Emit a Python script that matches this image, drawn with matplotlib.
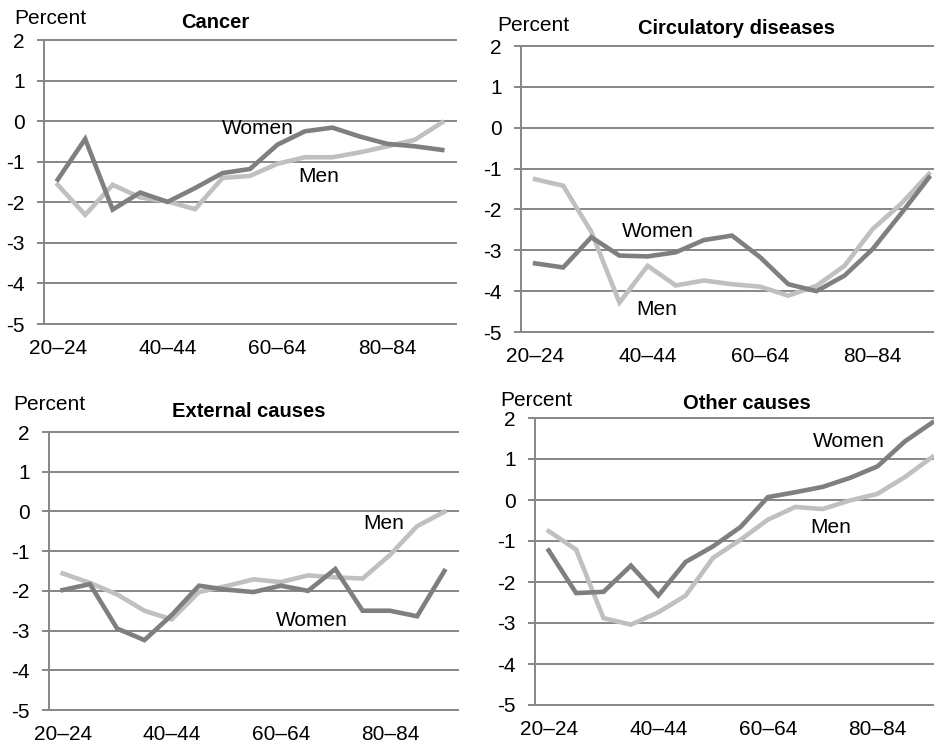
import matplotlib
matplotlib.use("Agg")
import matplotlib.pyplot as plt

plt.rcParams['font.family'] = ['Liberation Sans', 'DejaVu Sans']
plt.rcParams['axes.unicode_minus'] = False

# age groups 20-24 ... 90+
ages = ['20–24', '25–29', '30–34', '35–39', '40–44', '45–49', '50–54', '55–59',
        '60–64', '65–69', '70–74', '75–79', '80–84', '85–89', '90+']

# yearly change in mortality, percent
cancer_women = [-1.44, -0.44, -2.18, -1.76, -1.99, -1.65, -1.28, -1.18, -0.58, -0.25, -0.16, -0.38, -0.56, -0.62, -0.71]
cancer_men = [-1.57, -2.31, -1.57, -1.88, -1.98, -2.17, -1.40, -1.35, -1.05, -0.89, -0.89, -0.77, -0.62, -0.46, -0.03]

circ_women = [-3.32, -3.42, -2.68, -3.13, -3.15, -3.05, -2.75, -2.64, -3.17, -3.83, -4.00, -3.62, -2.97, -2.11, -1.22]
circ_men = [-1.26, -1.42, -2.55, -4.28, -3.38, -3.86, -3.74, -3.83, -3.89, -4.11, -3.87, -3.38, -2.48, -1.87, -1.13]

ext_women = [-1.98, -1.83, -2.95, -3.24, -2.61, -1.87, -1.97, -2.03, -1.87, -2.00, -1.45, -2.50, -2.50, -2.64, -1.50]
ext_men = [-1.56, -1.80, -2.09, -2.50, -2.72, -2.03, -1.88, -1.71, -1.78, -1.61, -1.66, -1.69, -1.10, -0.37, -0.01]

other_women = [-1.23, -2.27, -2.24, -1.60, -2.33, -1.51, -1.13, -0.66, 0.07, 0.19, 0.32, 0.54, 0.82, 1.43, 1.89]
other_men = [-0.76, -1.21, -2.88, -3.04, -2.74, -2.33, -1.41, -0.97, -0.48, -0.17, -0.22, -0.01, 0.15, 0.56, 1.05]

W, H = 934, 747
fig = plt.figure(figsize=(W / 100, H / 100), dpi=100)

grid_col = '#868686'
women_col = '#7f7f7f'
men_col = '#c0c0c0'


def fpos(x, y):
    return x / W, 1 - y / H


# (left, top, right, bottom) in pixels, title, title pos, percent pos, label positions
panels = [
    dict(box=(44, 40, 456, 324), title='Cancer', tpos=(215, 28), ppos=(14, 24),
         women=cancer_women, men=cancer_men,
         wlab=(7.3, -0.17), mlab=(9.5, -1.36)),
    dict(box=(521, 46, 943, 332), title='Circulatory diseases', tpos=(737, 34), ppos=(497, 31),
         women=circ_women, men=circ_men,
         wlab=(4.35, -2.54), mlab=(4.33, -4.44)),
    dict(box=(49, 432, 458, 710), title='External causes', tpos=(249, 417), ppos=(13, 410),
         women=ext_women, men=ext_men,
         wlab=(9.14, -2.74), mlab=(11.76, -0.30)),
    dict(box=(535, 418, 946, 705), title='Other causes', tpos=(747, 409), ppos=(500, 406),
         women=other_women, men=other_men,
         wlab=(10.96, 1.43), mlab=(10.29, -0.66)),
]

x = list(range(len(ages)))

for p in panels:
    l, t, r, b = p['box']
    ax = fig.add_axes([l / W, 1 - b / H, (r - l) / W, (b - t) / H])
    ax.plot(x, p['men'], color=men_col, lw=3.3, solid_joinstyle='miter', clip_on=False)
    ax.plot(x, p['women'], color=women_col, lw=3.3, solid_joinstyle='miter', clip_on=False)
    ax.set_xlim(-0.5, len(ages) - 0.5)
    ax.set_ylim(-5, 2)
    ax.set_yticks(range(-5, 3))
    ax.set_xticks(x[::4])
    ax.set_xticklabels(ages[::4])
    ax.grid(axis='y', color=grid_col, lw=1.4)
    for gl in ax.get_ygridlines():
        gl.set_clip_on(False)
    ax.set_axisbelow(True)
    for s in ['top', 'right', 'bottom']:
        ax.spines[s].set_visible(False)
    ax.spines['left'].set_color(grid_col)
    ax.spines['left'].set_linewidth(1.4)
    ax.tick_params(axis='y', direction='out', length=5, width=1.4, color=grid_col,
                   labelsize=15, pad=9)
    ax.tick_params(axis='x', length=0, labelsize=15, pad=11)

    ax.text(p['wlab'][0], p['wlab'][1], 'Women', ha='center', va='center', fontsize=15)
    ax.text(p['mlab'][0], p['mlab'][1], 'Men', ha='center', va='center', fontsize=15)

    tx, ty = fpos(*p['tpos'])
    fig.text(tx, ty, p['title'], ha='center', va='baseline', fontsize=14.5, fontweight='bold')
    px, py = fpos(*p['ppos'])
    fig.text(px, py, 'Percent', ha='left', va='baseline', fontsize=15)

fig.savefig('out.png', dpi=100)
